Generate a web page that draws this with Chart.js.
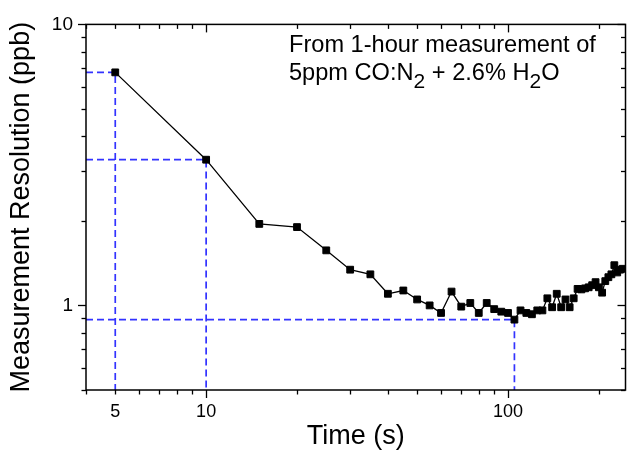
<!DOCTYPE html>
<html>
<head>
<meta charset="utf-8">
<script src="https://cdn.jsdelivr.net/npm/chart.js@4.4.1/dist/chart.umd.min.js"></script>
<style>
  html, body { margin: 0; padding: 0; background: #fff; }
  canvas { display: block; }
</style>
</head>
<body>
<canvas id="chart" width="627" height="450"></canvas>
<script>
const times = [5, 10, 15, 20, 25, 30, 35, 40, 45, 50, 55, 60, 65, 70, 75, 80, 85, 90, 95, 100,
  105, 110, 115, 120, 125, 130, 135, 140, 145, 150, 155, 160, 165, 170, 175, 180, 185, 190, 195, 200,
  205, 210, 215, 220, 225, 230, 235, 240];
const resolution = [6.75, 3.30, 1.95, 1.90, 1.57, 1.34, 1.29, 1.10, 1.13, 1.05, 1.00, 0.94, 1.12, 0.99, 1.02, 0.94, 1.02, 0.97, 0.95, 0.94,
  0.89, 0.96, 0.94, 0.93, 0.96, 0.96, 1.06, 0.985, 1.10, 0.985, 1.05, 0.985, 1.06, 1.145, 1.14, 1.15, 1.16, 1.18, 1.21, 1.16,
  1.11, 1.22, 1.26, 1.29, 1.39, 1.31, 1.34, 1.35];

// points picked out with the blue dashed guides
const guideTimes = [5, 10, 105];

const xRange = [4, 245];
const yRange = [0.5, 10];
const xLabelTicks = [5, 10, 100];
const xMajorTicks = [10, 100];
const xMinorTicks = [4, 5, 6, 7, 8, 9, 20, 30, 40, 50, 60, 70, 80, 90, 200];
const yLabelTicks = [1, 10];
const yMajorTicks = [1, 10];
const yMinorTicks = [0.5, 0.6, 0.7, 0.8, 0.9, 2, 3, 4, 5, 6, 7, 8, 9];

const FONT = "'Liberation Sans', Arial, sans-serif";

const seriesPoints = times.map((t, i) => ({ x: t, y: resolution[i] }));

const guideSets = guideTimes.map(t => {
  const v = resolution[times.indexOf(t)];
  return {
    type: 'line',
    data: [{ x: xRange[0], y: v }, { x: t, y: v }, { x: t, y: yRange[0] }],
    borderColor: '#3333ff',
    borderWidth: 1.7,
    borderDash: [7, 4],
    pointRadius: 0,
    fill: false,
    tension: 0
  };
});

// frame with ticks on all four sides (outward on bottom/left, inward on top/right)
const frameTicks = {
  id: 'frameTicks',
  afterDatasetsDraw(chart) {
    const { ctx, chartArea: a, scales: { x, y } } = chart;
    ctx.save();
    ctx.strokeStyle = '#000';
    ctx.lineWidth = 1.5;
    ctx.strokeRect(a.left, a.top, a.right - a.left, a.bottom - a.top);
    ctx.lineWidth = 1.3;
    const seg = (x1, y1, x2, y2) => {
      ctx.beginPath(); ctx.moveTo(x1, y1); ctx.lineTo(x2, y2); ctx.stroke();
    };
    xMajorTicks.concat(xMinorTicks).forEach(v => {
      const len = xMajorTicks.includes(v) ? 8 : 4.5;
      const px = Math.round(x.getPixelForValue(v)) + 0.5;
      seg(px, a.bottom, px, a.bottom + len);
      seg(px, a.top, px, a.top + len);
    });
    yMajorTicks.concat(yMinorTicks).forEach(v => {
      const len = yMajorTicks.includes(v) ? 8 : 4.5;
      const py = Math.round(y.getPixelForValue(v)) + 0.5;
      seg(a.left, py, a.left - len, py);
      seg(a.right, py, a.right - len, py);
    });
    ctx.restore();
  }
};

// two-line note with subscripts in the top right
const note = {
  id: 'note',
  afterDraw(chart) {
    const ctx = chart.ctx;
    ctx.save();
    ctx.fillStyle = '#000';
    ctx.textBaseline = 'alphabetic';
    ctx.font = '23.6px ' + FONT;
    ctx.fillText('From 1-hour measurement of', 289, 52);
    const parts = [['5ppm CO:N', 0], ['2', 1], [' + 2.6% H', 0], ['2', 1], ['O', 0]];
    let cx = 289;
    parts.forEach(([s, sub]) => {
      ctx.font = (sub ? '21px ' : '23.6px ') + FONT;
      ctx.fillText(s, cx, sub ? 88 : 80);
      cx += ctx.measureText(s).width;
    });
    ctx.restore();
  }
};

new Chart(document.getElementById('chart'), {
  type: 'line',
  data: {
    datasets: [{
      data: seriesPoints,
      borderColor: '#000',
      borderWidth: 1.3,
      backgroundColor: '#000',
      pointStyle: 'rect',
      pointRadius: 4.8,
      pointBorderWidth: 1,
      pointBorderColor: '#000',
      pointBackgroundColor: '#000',
      tension: 0,
      fill: false
    }].concat(guideSets)
  },
  options: {
    responsive: false,
    animation: false,
    events: [],
    layout: { autoPadding: false, padding: { top: 20, right: 1.5, bottom: 0, left: 0 } },
    plugins: { legend: { display: false }, tooltip: { enabled: false } },
    scales: {
      x: {
        type: 'logarithmic',
        min: xRange[0],
        max: xRange[1],
        bounds: 'data',
        afterBuildTicks: s => { s.ticks = xLabelTicks.map(v => ({ value: v })); },
        afterFit: s => { s.height = 60; },
        grid: { display: false, drawTicks: false },
        border: { display: false },
        ticks: {
          autoSkip: false,
          maxRotation: 0,
          padding: 11,
          color: '#000',
          font: { family: FONT, size: 18 },
          callback: v => String(v)
        },
        title: {
          display: true,
          text: 'Time (s)',
          color: '#000',
          padding: 0,
          font: { family: FONT, size: 27, lineHeight: 1 }
        }
      },
      y: {
        type: 'logarithmic',
        min: yRange[0],
        max: yRange[1],
        bounds: 'data',
        afterBuildTicks: s => { s.ticks = yLabelTicks.map(v => ({ value: v })); },
        afterFit: s => { s.width = 86; },
        grid: { display: false, drawTicks: false },
        border: { display: false },
        ticks: {
          autoSkip: false,
          padding: 13,
          color: '#000',
          font: { family: FONT, size: 19 },
          callback: v => String(v)
        },
        title: {
          display: true,
          text: 'Measurement Resolution (ppb)',
          color: '#000',
          padding: { top: 8 },
          font: { family: FONT, size: 27, lineHeight: 1 }
        }
      }
    }
  },
  plugins: [frameTicks, note]
});
</script>
</body>
</html>
